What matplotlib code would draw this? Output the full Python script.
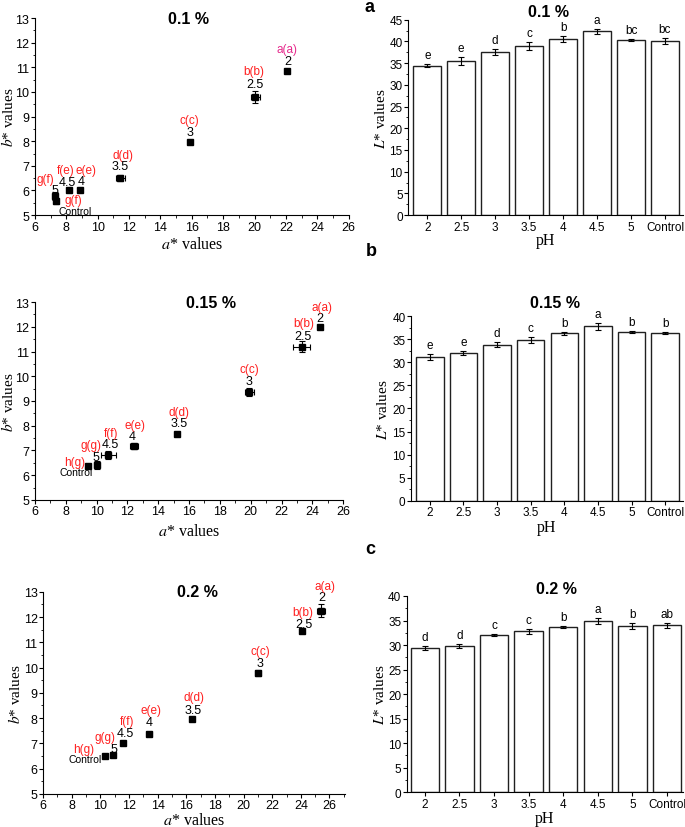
import numpy as np
import matplotlib
matplotlib.use('Agg')
import matplotlib.pyplot as plt
from matplotlib.ticker import MultipleLocator

plt.rcParams['font.family'] = ['Liberation Sans', 'DejaVu Sans']
plt.rcParams['mathtext.fontset'] = 'stix'

# ---- scatter data (a*, b*) ----
pt_names = ['2', '2.5', '3', '3.5', '4', '4.5', '5', 'Control']

a_01 = [22.1, 20.05, 15.87, 11.44, 8.9, 8.2, 7.27, 7.33]
b_01 = [10.85, 9.79, 7.96, 6.5, 6.01, 6.0, 5.77, 5.56]
a_01_err = [0.05, 0.3, 0.05, 0.3, 0.1, 0.05, 0.05, 0.05]
b_01_err = [0.05, 0.25, 0.05, 0.12, 0.03, 0.03, 0.15, 0.1]
let_01 = ['a(a)', 'b(b)', 'c(c)', 'd(d)', 'e(e)', 'f(e)', 'g(f)', 'g(f)']

a_015 = [24.5, 23.3, 19.92, 15.2, 12.45, 10.76, 10.0, 9.46]
b_015 = [11.99, 11.2, 9.36, 7.65, 7.17, 6.82, 6.41, 6.39]
a_015_err = [0.05, 0.55, 0.3, 0.05, 0.25, 0.5, 0.15, 0.05]
b_015_err = [0.05, 0.23, 0.15, 0.03, 0.1, 0.17, 0.15, 0.03]
let_015 = ['a(a)', 'b(b)', 'c(c)', 'd(d)', 'e(e)', 'f(f)', 'g(g)', 'h(g)']

a_02 = [25.4, 24.07, 21.0, 16.38, 13.42, 11.6, 10.9, 10.3]
b_02 = [12.26, 11.46, 9.79, 7.97, 7.37, 7.02, 6.54, 6.51]
a_02_err = [0.3, 0.05, 0.2, 0.05, 0.15, 0.05, 0.15, 0.05]
b_02_err = [0.26, 0.03, 0.12, 0.03, 0.05, 0.03, 0.08, 0.03]
let_02 = ['a(a)', 'b(b)', 'c(c)', 'd(d)', 'e(e)', 'f(f)', 'g(g)', 'h(g)']

# ---- bar data (L*) ----
ph = ['2', '2.5', '3', '3.5', '4', '4.5', '5', 'Control']
L_01 = [34.4, 35.5, 37.6, 39.0, 40.5, 42.3, 40.3, 40.1]
L_01_err = [0.4, 0.9, 0.7, 0.9, 0.7, 0.6, 0.2, 0.8]
L_01_let = ['e', 'e', 'd', 'c', 'b', 'a', 'bc', 'bc']

L_015 = [31.1, 32.0, 33.8, 34.8, 36.3, 37.8, 36.5, 36.3]
L_015_err = [0.7, 0.5, 0.5, 0.7, 0.3, 0.7, 0.2, 0.2]
L_015_let = ['e', 'e', 'd', 'c', 'b', 'a', 'b', 'b']

L_02 = [29.4, 29.8, 32.1, 32.8, 33.7, 34.9, 33.9, 34.0]
L_02_err = [0.4, 0.5, 0.2, 0.5, 0.2, 0.6, 0.6, 0.5]
L_02_let = ['d', 'd', 'c', 'c', 'b', 'a', 'b', 'ab']

RED = '#ff1f1f'
PINK = '#e62a8c'
W, H = 685, 828

# label offsets in pixels: (number label), (letter label)
off_01 = [((0, 10), (0, 22)), ((0, 13), (-2, 26)), ((0, 10), (0, 22)), ((0, 12), (3, 23)),
          ((1, 9), (6, 20)), ((-2, 8), (-4, 20)), ((0, 6), (-9, 17)), ((19, -10), (18, 1))]
off_015 = [((0, 9), (2, 20)), ((1, 11), (2, 24)), ((0, 11), (0, 23)), ((2, 11), (2, 22)),
           ((-2, 10), (1, 21)), ((2, 11), (3, 22)), ((-1, 8), (-6, 20)), ((-12, -6), (-14, 4))]
off_02 = [((1, 14), (4, 25)), ((2, 7), (1, 19)), ((2, 10), (2, 22)), ((1, 9), (2, 22)),
          ((0, 12), (2, 24)), ((2, 10), (4, 22)), ((1, 6), (-8, 18)), ((-20, -3), (-21, 7))]


def style_axes(ax, lsize):
    ax.spines['top'].set_visible(False)
    ax.spines['right'].set_visible(False)
    ax.tick_params(which='major', direction='out', length=3, width=0.8, labelsize=lsize, pad=1)
    ax.tick_params(which='minor', direction='out', length=1.8, width=0.6)


def place_labels(ax, rect, xl, yl, dx, dy):
    ax.set_xlabel(xl, family='Liberation Serif', fontsize=11.5, va='center')
    ax.set_ylabel(yl, family='Liberation Serif', fontsize=11, va='center')
    ax.xaxis.set_label_coords(0.5, -dy / (rect[3] * H))
    ax.yaxis.set_label_coords(-dx / (rect[2] * W), 0.5)


def scatter_panel(rect, a, b, aerr, berr, lets, offs, title, title_x, xmax, first_color, dx, dy):
    ax = fig.add_axes(rect)
    ax.errorbar(a, b, xerr=aerr, yerr=berr, fmt='s', color='black', ms=4.5,
                elinewidth=0.8, capsize=2, capthick=0.8)
    for i in range(len(a)):
        nm_off, let_off = offs[i]
        if pt_names[i] == 'Control':
            ax.annotate('Control', (a[i], b[i]), xytext=nm_off, textcoords='offset pixels',
                        ha='center', va='center', fontsize=7.5)
        else:
            ax.annotate(pt_names[i], (a[i], b[i]), xytext=nm_off, textcoords='offset pixels',
                        ha='center', va='center', fontsize=9)
        col = first_color if i == 0 else RED
        ax.annotate(lets[i], (a[i], b[i]), xytext=let_off, textcoords='offset pixels',
                    ha='center', va='center', fontsize=8.5, color=col)
    ax.set_xlim(6, xmax)
    ax.set_ylim(5, 13)
    ax.set_xticks(np.arange(6, 27, 2))
    ax.xaxis.set_minor_locator(MultipleLocator(1))
    ax.yaxis.set_major_locator(MultipleLocator(1))
    ax.yaxis.set_minor_locator(MultipleLocator(0.5))
    style_axes(ax, 9)
    place_labels(ax, rect, r'$a$* values', r'$b$* values', dx, dy)
    ax.text(title_x, 1.0, title, transform=ax.transAxes, ha='center', va='center',
            fontsize=11.5, fontweight='bold')
    return ax


def bar_panel(rect, vals, errs, lets, ymax, xlim, title, title_x, title_y, dx, dy):
    ax = fig.add_axes(rect)
    x = np.arange(len(ph))
    ax.bar(x, vals, width=0.82, color='white', edgecolor='#202020', linewidth=1.0)
    ax.errorbar(x, vals, yerr=errs, fmt='none', ecolor='black', elinewidth=0.8,
                capsize=2.5, capthick=0.8)
    for i in range(len(x)):
        ax.annotate(lets[i], (x[i], vals[i] + errs[i]), xytext=(0, 3),
                    textcoords='offset pixels', ha='center', va='bottom', fontsize=8.5)
    ax.set_xlim(*xlim)
    ax.set_ylim(0, ymax)
    ax.set_xticks(x)
    ax.set_xticklabels(ph)
    ax.yaxis.set_major_locator(MultipleLocator(5))
    ax.yaxis.set_minor_locator(MultipleLocator(2.5))
    style_axes(ax, 8.5)
    place_labels(ax, rect, 'pH', r'$L$* values', dx, dy)
    ax.text(title_x, title_y, title, transform=ax.transAxes, ha='center', va='center',
            fontsize=11.5, fontweight='bold')
    return ax


fig = plt.figure(figsize=(6.85, 8.28), dpi=100)

scatter_panel([0.051, 0.739, 0.458, 0.238], a_01, b_01, a_01_err, b_01_err, let_01, off_01,
              '0.1 %', 0.49, 26, PINK, 27, 29)
scatter_panel([0.051, 0.395, 0.450, 0.239], a_015, b_015, a_015_err, b_015_err, let_015, off_015,
              '0.15 %', 0.57, 26, RED, 27, 31)
scatter_panel([0.063, 0.040, 0.441, 0.244], a_02, b_02, a_02_err, b_02_err, let_02, off_02,
              '0.2 %', 0.51, 27.1, RED, 28, 26)

bar_panel([0.596, 0.739, 0.401, 0.236], L_01, L_01_err, L_01_let, 45, (-0.56, 7.53),
          '0.1 %', 0.51, 1.04, 27, 25)
bar_panel([0.600, 0.394, 0.397, 0.223], L_015, L_015_err, L_015_let, 40, (-0.56, 7.53),
          '0.15 %', 0.53, 1.076, 28, 26)
bar_panel([0.594, 0.042, 0.403, 0.237], L_02, L_02_err, L_02_let, 40, (-0.52, 7.46),
          '0.2 %', 0.54, 1.036, 27, 26)

fig.text(0.540, 0.9915, 'a', fontsize=13, fontweight='bold', ha='center', va='center')
fig.text(0.542, 0.696, 'b', fontsize=13, fontweight='bold', ha='center', va='center')
fig.text(0.540, 0.336, 'c', fontsize=13, fontweight='bold', ha='center', va='center')

fig.savefig('out.png', dpi=100)
